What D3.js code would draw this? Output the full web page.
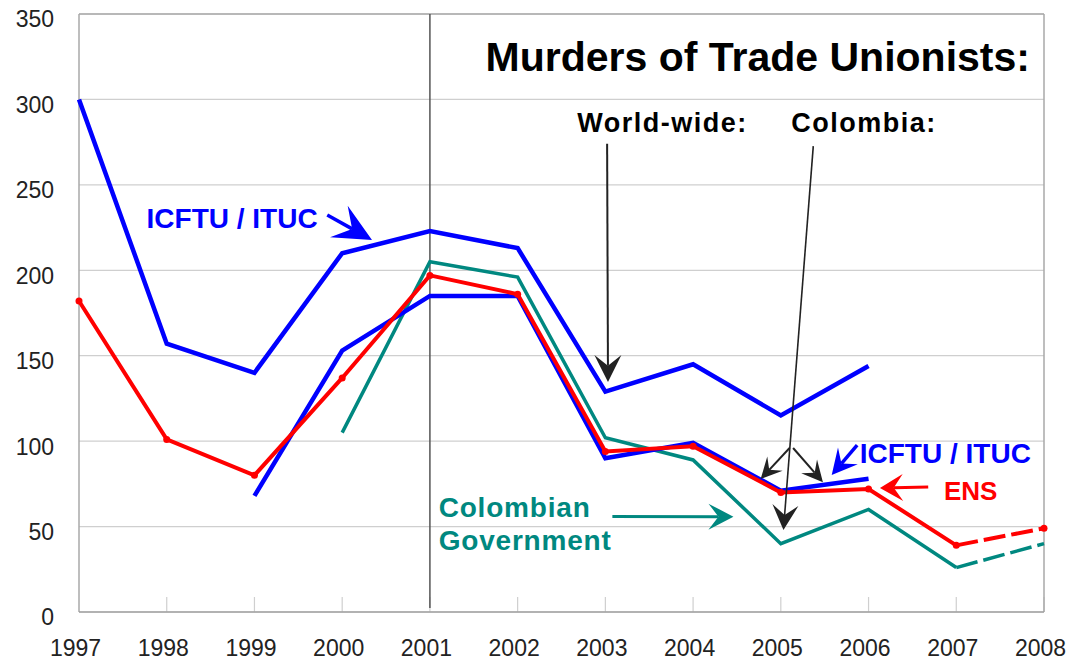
<!DOCTYPE html>
<html>
<head>
<meta charset="utf-8">
<style>
  body { margin: 0; background: #fff; }
  svg { display: block; font-family: "Liberation Sans", Arial, sans-serif; }
</style>
</head>
<body>
<script src="https://d3js.org/d3.v7.min.js"></script>
<script>
const years = [1997, 1998, 1999, 2000, 2001, 2002, 2003, 2004, 2005, 2006, 2007, 2008]
const yTicks = [0, 50, 100, 150, 200, 250, 300, 350]

// ICFTU / ITUC world-wide (1997-2006)
const icftuWorld = [300, 157, 140, 210, 223, 213, 129, 145, 115, 144, null, null]
// ICFTU / ITUC Colombia
const icftuColombia = [null, null, 68, 153, 185, 185, 90, 99, 71, 78, null, null]
// ENS Colombia
const ens = [182, 101, 80, 137, 197, 186, 94, 97, 70, 72, 39, 49]
// Colombian Government
const government = [null, null, null, 105, 205, 196, 102, 89, 40, 60, 26, 40]

const W = 1071, H = 660
const plotL = 79, plotR = 1044, plotT = 14, plotB = 612

const x = d3.scaleLinear().domain([1997, 2008]).range([plotL, plotR])
const y = d3.scaleLinear().domain([0, 350]).range([plotB, plotT])

const svg = d3.select("body").append("svg").attr("width", W).attr("height", H)

// grid
svg.append("g").selectAll("line").data(yTicks).join("line")
  .attr("x1", plotL).attr("x2", plotR)
  .attr("y1", d => y(d)).attr("y2", d => y(d))
  .attr("stroke", d => d === 350 ? "#a0a0a0" : "#cfcfcf")
  .attr("stroke-width", d => d === 350 ? 1.5 : 1.2)

// bottom tick marks
svg.append("g").selectAll("line").data(years.slice(1)).join("line")
  .attr("x1", d => x(d)).attr("x2", d => x(d))
  .attr("y1", plotB - 15).attr("y2", plotB)
  .attr("stroke", "#cfcfcf").attr("stroke-width", 1.2)

// frame
svg.append("line").attr("x1", plotR).attr("x2", plotR).attr("y1", plotT).attr("y2", plotB)
  .attr("stroke", "#a8a8a8").attr("stroke-width", 1.5)
svg.append("line").attr("x1", plotL).attr("x2", plotL).attr("y1", plotT).attr("y2", plotB)
  .attr("stroke", "#a8a8a8").attr("stroke-width", 1.5)
svg.append("line").attr("x1", plotL).attr("x2", plotR).attr("y1", plotB).attr("y2", plotB)
  .attr("stroke", "#a0a0a0").attr("stroke-width", 1.5)

// axes (labels only)
const yAxis = svg.append("g").attr("transform", "translate(" + plotL + ",0)")
  .call(d3.axisLeft(y).tickValues(yTicks).tickSize(0).tickPadding(25))
yAxis.select(".domain").remove()
yAxis.selectAll("text").attr("dy", "0.56em").attr("font-size", 23).attr("fill", "#222")
  .attr("font-family", "Liberation Sans, Arial, sans-serif")

const xAxis = svg.append("g").attr("transform", "translate(0," + plotB + ")")
  .call(d3.axisBottom(x).tickValues(years).tickFormat(d3.format("d")).tickSize(0).tickPadding(28))
xAxis.select(".domain").remove()
xAxis.selectAll("text").attr("dx", -4).attr("font-size", 23).attr("fill", "#222")
  .attr("font-family", "Liberation Sans, Arial, sans-serif")

// 2001 divider
svg.append("line").attr("x1", x(2001)).attr("x2", x(2001))
  .attr("y1", plotT).attr("y2", plotB - 4)
  .attr("stroke", "#555").attr("stroke-width", 1.5)

// series
const pts = arr => years.map((yr, i) => ({ yr, v: arr[i] }))
const line = d3.line().defined(d => d.v != null).x(d => x(d.yr)).y(d => y(d.v))

function drawSeries(arr, color, width, dashedFrom) {
  const all = pts(arr)
  const solid = dashedFrom ? all.filter(d => d.yr <= dashedFrom) : all
  svg.append("path").datum(solid).attr("d", line)
    .attr("fill", "none").attr("stroke", color).attr("stroke-width", width)
    .attr("stroke-linejoin", "miter")
  if (dashedFrom) {
    svg.append("path").datum(all.filter(d => d.yr >= dashedFrom)).attr("d", line)
      .attr("fill", "none").attr("stroke", color).attr("stroke-width", width)
      .attr("stroke-dasharray", "22,6")
  }
}

drawSeries(government, "#008880", 3.5, 2007)
drawSeries(icftuWorld, "#0000ff", 4.5)
drawSeries(icftuColombia, "#0000ff", 4.5)
drawSeries(ens, "#ff0000", 4, 2007)

svg.append("g").selectAll("circle").data(pts(ens)).join("circle")
  .attr("cx", d => x(d.yr)).attr("cy", d => y(d.v)).attr("r", 3.5).attr("fill", "#ff0000")

// annotation arrows, in data coordinates: [tailYear, tailVal, tipYear, tipVal]
function arrow(a, color, sw, len, wid) {
  const x1 = x(a[0]), y1 = y(a[1]), x2 = x(a[2]), y2 = y(a[3])
  const dx = x2 - x1, dy = y2 - y1, L = Math.hypot(dx, dy)
  const ux = dx / L, uy = dy / L, nx = -uy, ny = ux
  const bx = x2 - ux * len, by = y2 - uy * len
  const mx = x2 - ux * len * 0.6, my = y2 - uy * len * 0.6
  svg.append("line").attr("x1", x1).attr("y1", y1).attr("x2", mx).attr("y2", my)
    .attr("stroke", color).attr("stroke-width", sw)
  svg.append("path")
    .attr("d", "M" + x2 + "," + y2 +
      "L" + (bx + nx * wid / 2) + "," + (by + ny * wid / 2) +
      "L" + mx + "," + my +
      "L" + (bx - nx * wid / 2) + "," + (by - ny * wid / 2) + "Z")
    .attr("fill", color)
}

arrow([2003.02, 274, 2003.03, 134.6], "#222", 2, 27, 27)
arrow([2005.37, 272.7, 2005.03, 48], "#222", 1.6, 25, 26)
arrow([2005.10, 96, 2004.77, 77.8], "#222", 2, 21, 21)
arrow([2005.14, 96, 2005.48, 76], "#222", 2, 21, 21)
arrow([1999.83, 232.4, 2000.34, 217.7], "#0000ff", 3.5, 38, 36)
arrow([2005.87, 97.7, 2005.58, 80.2], "#0000ff", 3.5, 25, 26)
arrow([2006.68, 73.2, 2006.13, 72.6], "#ff0000", 3, 23, 27)
arrow([2003.08, 55.9, 2004.46, 55.8], "#008880", 3, 25, 26)

// text annotations
function label(txt, yr, v, color, size, anchor, spacing) {
  svg.append("text").attr("x", x(yr)).attr("y", y(v))
    .attr("fill", color).attr("font-size", size).attr("font-weight", "bold")
    .attr("text-anchor", anchor || "start")
    .attr("letter-spacing", spacing || 0)
    .text(txt)
}

label("Murders of Trade Unionists:", 2007.84, 316.5, "#000", 41, "end")
label("World-wide:", 2002.68, 281, "#000", 27, "start", 1.5)
label("Colombia:", 2005.12, 281, "#000", 27, "start", 1.5)
label("ICFTU / ITUC", 1997.77, 224.8, "#0000ff", 28)
label("ICFTU / ITUC", 2005.90, 87.2, "#0000ff", 28)
label("ENS", 2006.86, 65.6, "#ff0000", 26)
label("Colombian", 2001.10, 55.8, "#008880", 28, "start", 0.8)
label("Government", 2001.10, 36.3, "#008880", 28, "start", 0.8)
</script>
</body>
</html>
